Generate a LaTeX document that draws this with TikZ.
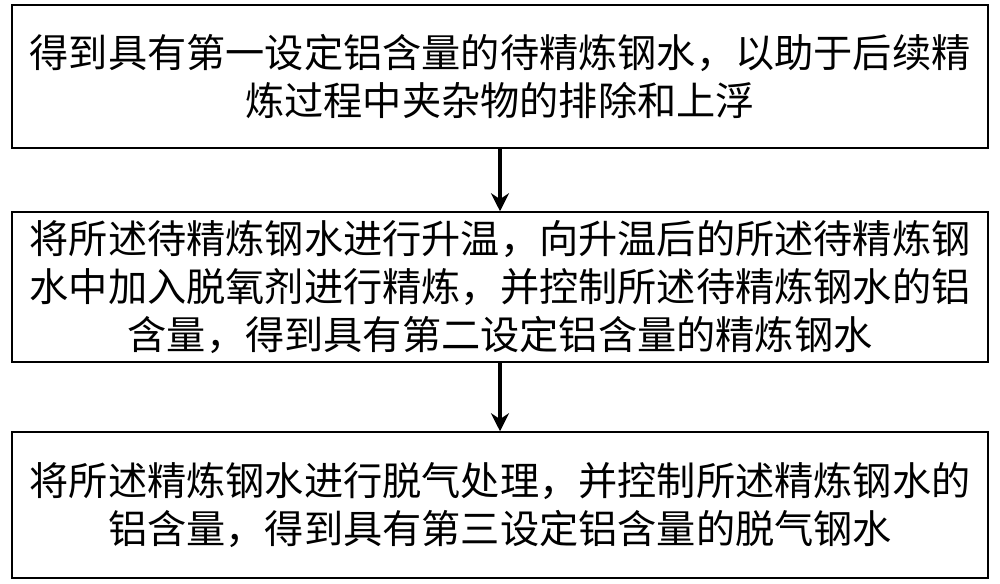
\documentclass[tikz,border=0pt]{standalone}
\usepackage{fontspec}
\setmainfont{Noto Sans CJK SC}
\usetikzlibrary{arrows.meta}
\begin{document}
\begin{tikzpicture}[x=1pt,y=-1pt,
  stepbox/.style={draw,line width=1.5pt,minimum width=976pt,align=center,inner sep=0pt,
    font=\fontsize{39.2}{48}\selectfont},
  flow/.style={line width=3.5pt,-{Stealth[length=18pt,width=18pt]}}]
\useasboundingbox (0,0) rectangle (1000,583);
\node[stepbox,minimum height=143pt] (a) at (500,76.5) {得到具有第一设定铝含量的待精炼钢水，以助于后续精\\炼过程中夹杂物的排除和上浮};
\node[stepbox,minimum height=150pt] (b) at (500,287) {将所述待精炼钢水进行升温，向升温后的所述待精炼钢\\水中加入脱氧剂进行精炼，并控制所述待精炼钢水的铝\\含量，得到具有第二设定铝含量的精炼钢水};
\node[stepbox,minimum height=146pt] (c) at (500,505) {将所述精炼钢水进行脱气处理，并控制所述精炼钢水的\\铝含量，得到具有第三设定铝含量的脱气钢水};
\draw[flow] (a) -- (b);
\draw[flow] (b) -- (c);
\end{tikzpicture}
\end{document}
